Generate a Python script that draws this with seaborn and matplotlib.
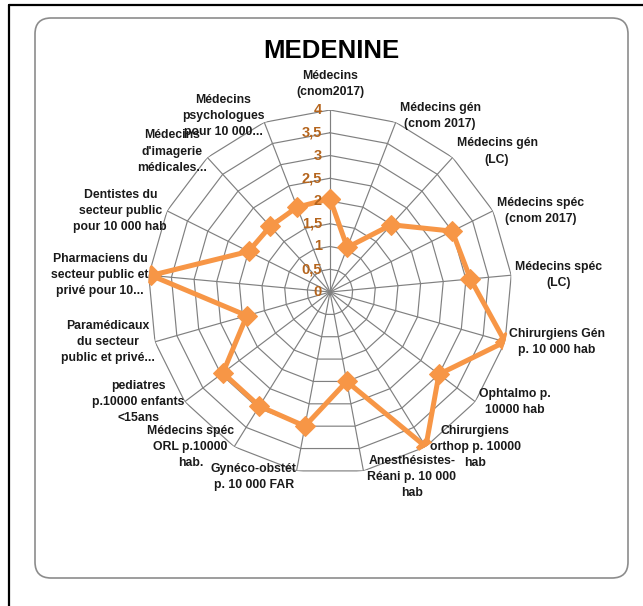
import numpy as np
import pandas as pd
import matplotlib.pyplot as plt
from matplotlib.patches import FancyBboxPatch
from matplotlib.lines import Line2D
import seaborn as sns

# Categories (clockwise from the top) and values
categories = [
    "Médecins\n(cnom2017)",
    "Médecins gén\n(cnom 2017)",
    "Médecins gén\n(LC)",
    "Médecins spéc\n(cnom 2017)",
    "Médecins spéc\n(LC)",
    "Chirurgiens Gén\np. 10 000 hab",
    "Ophtalmo p.\n10000 hab",
    "Chirurgiens\northop p. 10000\nhab",
    "Anesthésistes-\nRéani p. 10 000\nhab",
    "Gynéco-obstét\np. 10 000 FAR",
    "Médecins spéc\nORL p.10000\nhab.",
    "pediatres\np.10000 enfants\n<15ans",
    "Paramédicaux\ndu secteur\npublic et privé...",
    "Pharmaciens du\nsecteur public et\nprivé pour 10...",
    "Dentistes du\nsecteur public\npour 10 000 hab",
    "Médecins\nd'imagerie\nmédicales...",
    "Médecins\npsychologues\npour 10 000...",
]
values = [2.05, 1.05, 2.0, 3.0, 3.1, 4.0, 3.0, 4.0, 2.0, 3.0, 2.95, 2.95, 1.9, 3.95, 2.0, 1.95, 2.0]
ticks = [0, 0.5, 1, 1.5, 2, 2.5, 3, 3.5, 4]
tick_labels = ["0", "0,5", "1", "1,5", "2", "2,5", "3", "3,5", "4"]

line_color = "#F79646"
tick_color = "#B5651D"
grid_color = "#808080"

sns.set_style("white")
plt.rcParams["font.family"] = ["Liberation Sans", "DejaVu Sans"]

n = len(categories)
theta = np.linspace(0, 2 * np.pi, n, endpoint=False)

df = pd.DataFrame({"theta": np.append(theta, 2 * np.pi),
                   "value": values + values[:1]})

fig = plt.figure(figsize=(6.43, 6.06), dpi=100)
W, H = 643, 606
cx, cy, R = 330, 292, 182
ax = fig.add_axes([(cx - R) / W, 1 - (cy + R) / H, 2 * R / W, 2 * R / H], projection="polar")
ax.set_theta_offset(np.pi / 2)
ax.set_theta_direction(-1)
ax.set_ylim(0, 4)
ax.grid(False)
ax.spines["polar"].set_visible(False)
ax.set_xticks([])
ax.set_yticks([])
ax.patch.set_alpha(0)

# polygon grid
ring = np.append(theta, theta[0])
for t in ticks[1:]:
    ax.plot(ring, [t] * len(ring), color=grid_color, lw=0.85, zorder=1)
for t in theta:
    ax.plot([t, t], [0, 4], color=grid_color, lw=0.85, zorder=1)

sns.lineplot(data=df, x="theta", y="value", sort=False, ax=ax, color=line_color,
             lw=3.6, marker="D", markersize=10.5, markeredgecolor=line_color, zorder=3)
ax.set_xlabel("")
ax.set_ylabel("")

# radial tick labels
for t, lab in zip(ticks, tick_labels):
    ax.annotate(lab, xy=(0, t), xytext=(-8, 0), textcoords="offset pixels",
                ha="right", va="center", fontsize=10.5, fontweight="bold",
                color=tick_color, zorder=4)

# category labels
for i, (t, lab) in enumerate(zip(theta, categories)):
    s = np.sin(t)
    c = np.cos(t)
    if abs(s) < 0.1:
        ha, dx = "center", 0
    elif s > 0:
        ha, dx = "left", 4
    else:
        ha, dx = "right", 0
    va = "center"
    dy = 6 if c > 0.5 else (-6 if c < -0.9 else 0)
    if i == 0:
        va, dy = "bottom", 12
    ax.annotate(lab, xy=(t, 4), xytext=(dx, dy), textcoords="offset pixels",
                ha=ha, va=va, multialignment="center", fontsize=8.8,
                fontweight="bold", color="#1a1a1a", linespacing=1.45,
                annotation_clip=False, zorder=4)

fig.text(331 / W, 1 - 51 / H, "MEDENINE", ha="center", va="center",
         fontsize=18.5, fontweight="bold", color="black")

# rounded frame and outer border
frame = FancyBboxPatch((0.35, 0.28), 5.93, 5.60, boxstyle="round,pad=0,rounding_size=0.16",
                       transform=fig.dpi_scale_trans, facecolor="none",
                       edgecolor="#8c8c8c", lw=1.2)
fig.patches.append(frame)
fig.lines.append(Line2D([0.09, 0.09], [0, 6.01], color="black", lw=1.6, transform=fig.dpi_scale_trans))
fig.lines.append(Line2D([0.09, 6.43], [6.01, 6.01], color="black", lw=1.6, transform=fig.dpi_scale_trans))

fig.savefig("out.png", dpi=100)
